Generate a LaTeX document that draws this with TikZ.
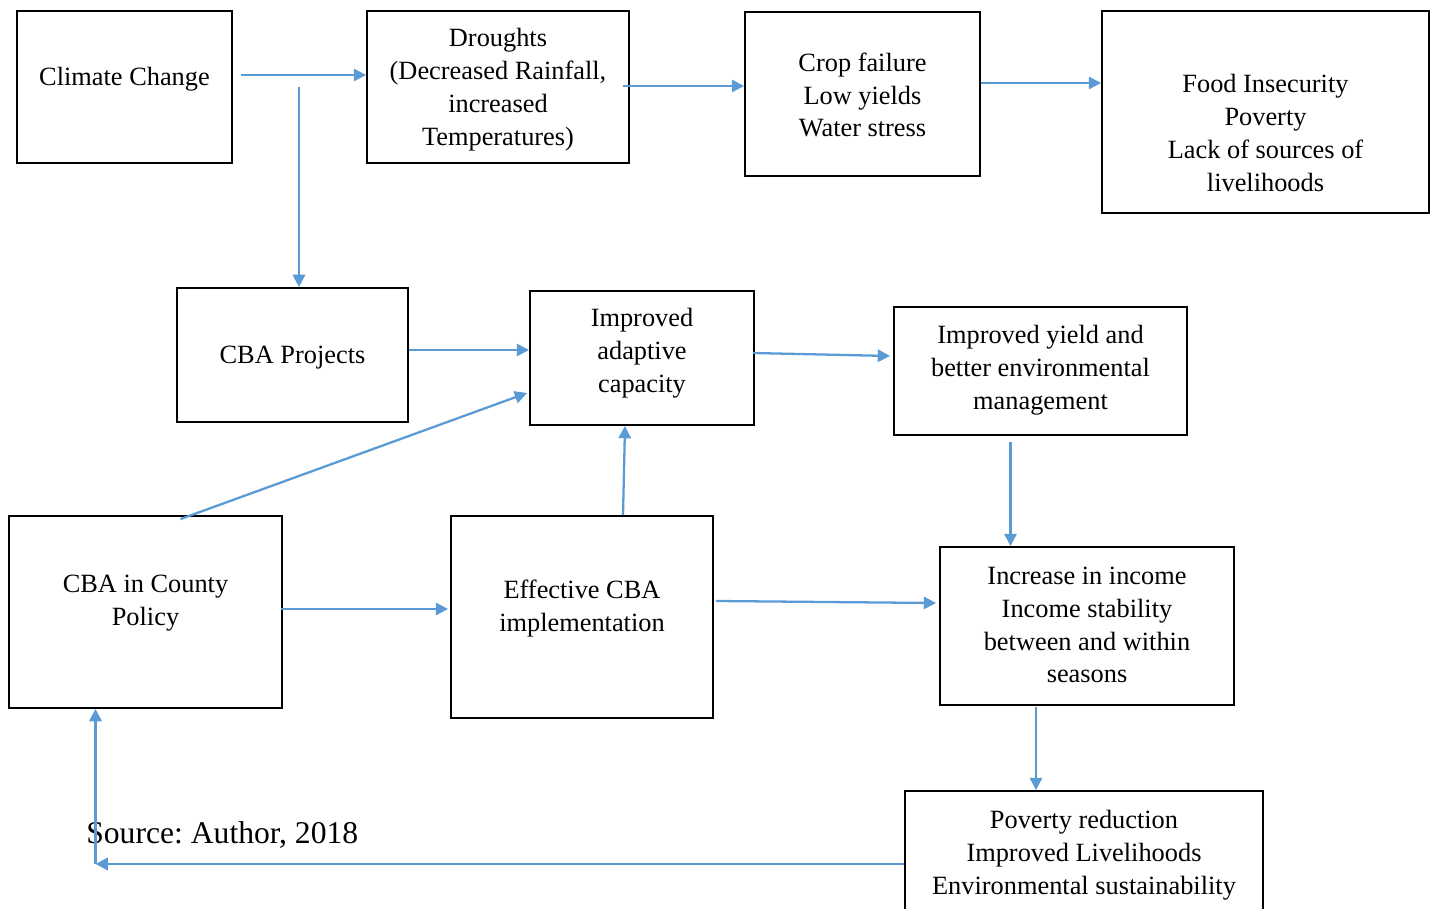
\documentclass[tikz,border=0pt]{standalone}
\usepackage{fontspec}
\setmainfont{Liberation Serif}
\frenchspacing
\usetikzlibrary{arrows.meta, positioning, calc}
\definecolor{arrowblue}{HTML}{5B9BD5}

\begin{document}
\begin{tikzpicture}[
		x=0.02cm, y=-0.02cm,
		box/.style = {draw, line width=1.1pt, rectangle, inner sep=0pt},
		txt/.style = {align=center, inner sep=0pt, font=\fontsize{15}{18.7}\selectfont},
		flow/.style = {draw=arrowblue, line width=1.3pt, -{Triangle[length=7pt, width=7pt]}}
		]
		\useasboundingbox (0,0) rectangle (1434,909);
		
		% --- FILA 1: CAUSAS ---
		\node [box, minimum width=4.3cm,  minimum height=3.04cm] (cc)   at (124.5, 87) {};
		\node [txt] (cc-t) at ([yshift=0.16cm]cc) {Climate Change};
		\node [box, minimum width=5.24cm, minimum height=3.04cm] (dr)   at (498, 87) {};
		\node [txt] (dr-t) at ([yshift=-0.05cm]dr) {Droughts\\(Decreased Rainfall,\\increased\\Temperatures)};
		\node [box, minimum width=4.7cm,  minimum height=3.28cm] (crop) at (862.5, 94) {};
		\node [txt] (crop-t) at ([yshift=-0.02cm]crop) {Crop failure\\Low yields\\Water stress};
		\node [box, minimum width=6.54cm, minimum height=4.04cm] (food) at (1265.5, 112) {};
		\node [txt] (food-t) at ([yshift=-0.42cm]food) {Food Insecurity\\Poverty\\Lack of sources of\\livelihoods};
		
		% --- FILA 2: ADAPTACION ---
		\node [box, minimum width=4.62cm, minimum height=2.68cm] (cbap)  at (292.5, 355) {};
		\node [txt] (cbap-t) at ([yshift=-0.05cm]cbap) {CBA Projects};
		\node [box, minimum width=4.48cm, minimum height=2.68cm] (adapt) at (642, 358) {};
		\node [txt] (adapt-t) at ([yshift=0.09cm]adapt) {Improved\\adaptive\\capacity};
		\node [box, minimum width=5.86cm, minimum height=2.56cm] (yield) at (1040.5, 371) {};
		\node [txt] (yield-t) at ([yshift=0.02cm]yield) {Improved yield and\\better environmental\\management};
		
		% --- FILA 3: POLITICA ---
		\node [box, minimum width=5.46cm, minimum height=3.84cm] (county) at (145.5, 612) {};
		\node [txt] (county-t) at ([yshift=0.17cm]county) {CBA in County\\Policy};
		\node [box, minimum width=5.24cm, minimum height=4.04cm] (eff)    at (582, 617) {};
		\node [txt] (eff-t) at ([yshift=0.17cm]eff) {Effective CBA\\implementation};
		\node [box, minimum width=5.88cm, minimum height=3.16cm] (inc)    at (1087, 626) {};
		\node [txt] (inc-t) at ([yshift=0.02cm]inc) {Increase in income\\Income stability\\between and within\\seasons};
		
		% --- FILA 4: RESULTADO ---
		\node [box, minimum width=7.16cm, minimum height=2.52cm] (pov) at (1084, 854) {};
		\node [txt] (pov-t) at ([yshift=-0.03cm]pov) {Poverty reduction\\Improved Livelihoods\\Environmental sustainability};
		
		\node [anchor=west, inner sep=0pt, font=\fontsize{18}{22}\selectfont] (source) at (86, 835) {Source: Author, 2018};
		
		% --- CONEXIONES ---
		\draw [flow] ([shift={(8,-12)}]cc.east) -- ([shift={(0,-12)}]cc.east -| dr.west);
		\draw [flow] ([shift={(66,0)}]cc.east) -- ([shift={(66,0)}]cc.east |- cbap.north);
		\draw [flow] ([shift={(-7,-1)}]dr.east) -- ([shift={(0,-1)}]dr.east -| crop.west);
		\draw [flow] ([shift={(0,-11)}]crop.east) -- ([shift={(0,-11)}]crop.east -| food.west);
		
		\draw [flow] ([shift={(0,-5)}]cbap.east) -- ([shift={(0,-5)}]cbap.east -| adapt.west);
		\draw [flow] ([shift={(-2,-5)}]adapt.east) -- ([shift={(-3,-15)}]yield.west);
		\draw [flow] ([shift={(35,4)}]county.north) -- ([shift={(-2,35)}]adapt.west);
		\draw [flow] ([shift={(41,0)}]eff.north) -- ([shift={(-17,0)}]adapt.south);
		
		\draw [flow] ([shift={(-2,-3)}]county.east) -- ([shift={(-2,-3)}]county.east -| eff.west);
		\draw [flow] ([shift={(2,-16)}]eff.east) -- ([shift={(-3,-23)}]inc.west);
		\draw [flow] ([shift={(-30,6)}]yield.south) -- ([shift={(-30,0)}]yield.south |- inc.north);
		\draw [flow] ([shift={(-51,1)}]inc.south) -- ([shift={(-51,0)}]inc.south |- pov.north);
		
		% --- RETROALIMENTACION ---
		\coordinate (turn) at ([shift={(-50,10)}]county.south |- pov.west);
		\draw [flow] ([shift={(0,10)}]pov.west) -- (turn);
		\draw [flow] (turn) -- (turn |- county.south);
		
	\end{tikzpicture}
\end{document}
